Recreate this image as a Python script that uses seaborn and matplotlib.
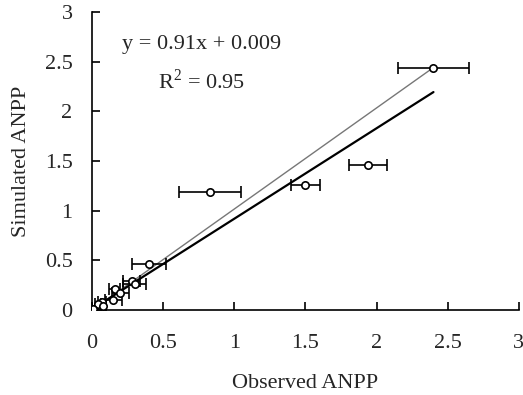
import numpy as np
import pandas as pd
import matplotlib
matplotlib.use('Agg')
import matplotlib.pyplot as plt
import seaborn as sns

# observed vs simulated ANPP, x error = observed spread
observed = [2.40, 1.94, 1.50, 0.83, 0.40, 0.28, 0.30, 0.16, 0.20, 0.15, 0.07, 0.04, 0.08, 0.01]
simulated = [2.44, 1.46, 1.26, 1.19, 0.46, 0.29, 0.26, 0.21, 0.17, 0.10, 0.08, 0.06, 0.04, 0.01]
obs_err = [0.25, 0.135, 0.10, 0.22, 0.12, 0.06, 0.08, 0.04, 0.06, 0.06, 0.03, 0.02, 0.02, 0.01]

slope = 0.91
intercept = 0.009
ticks = [0, 0.5, 1, 1.5, 2, 2.5, 3]
tick_labels = ['0', '0.5', '1', '1.5', '2', '2.5', '3']

sns.set_theme(style="ticks")
plt.rcParams['font.family'] = ['Liberation Serif', 'DejaVu Serif']
plt.rcParams['mathtext.fontset'] = 'custom'
plt.rcParams['mathtext.rm'] = 'Liberation Serif'

df = pd.DataFrame({'Observed': observed, 'Simulated': simulated})

fig = plt.figure(figsize=(5.23, 3.95), dpi=100)
ax = fig.add_axes([0.176, 0.215, 0.816, 0.755])

# 1:1 line (thin gray) and fitted line (black)
one = pd.DataFrame({'x': [0, max(observed)], 'y': [0, max(simulated)]})
sns.lineplot(x='x', y='y', data=one, color='#777777', linewidth=1.0, ax=ax)
fit_x = np.array([0, max(observed)])
fit = pd.DataFrame({'x': fit_x, 'y': slope * fit_x + intercept})
sns.lineplot(x='x', y='y', data=fit, color='black', linewidth=1.6, ax=ax)

ax.errorbar(observed, simulated, xerr=obs_err, fmt='none', ecolor='black',
            elinewidth=1.2, capsize=4, capthick=1.2, zorder=3)
sns.scatterplot(x='Observed', y='Simulated', data=df, marker='o', s=28,
                facecolor='white', edgecolor='black', linewidth=1.2,
                zorder=4, ax=ax)

ax.text(0.77, 2.67, 'y = 0.91x + 0.009', ha='center', va='center', fontsize=16)
ax.text(0.77, 2.30, r'R$^\mathregular{2}$ = 0.95', ha='center', va='center', fontsize=16)

ax.set_xlim(0, 3)
ax.set_ylim(0, 3)
ax.set_xticks(ticks)
ax.set_xticklabels(tick_labels)
ax.set_yticks(ticks)
ax.set_yticklabels(tick_labels)
ax.tick_params(direction='in', length=6, width=1.2, labelsize=16, color='black')
ax.tick_params(axis='x', pad=17)
ax.tick_params(axis='y', pad=14)
for side in ['left', 'bottom']:
    ax.spines[side].set_linewidth(1.2)
    ax.spines[side].set_color('black')
sns.despine(ax=ax)

ax.set_xlabel('Observed ANPP', fontsize=16, labelpad=15)
ax.set_ylabel('Simulated ANPP', fontsize=16, labelpad=10)

fig.savefig('out.png', dpi=100)
